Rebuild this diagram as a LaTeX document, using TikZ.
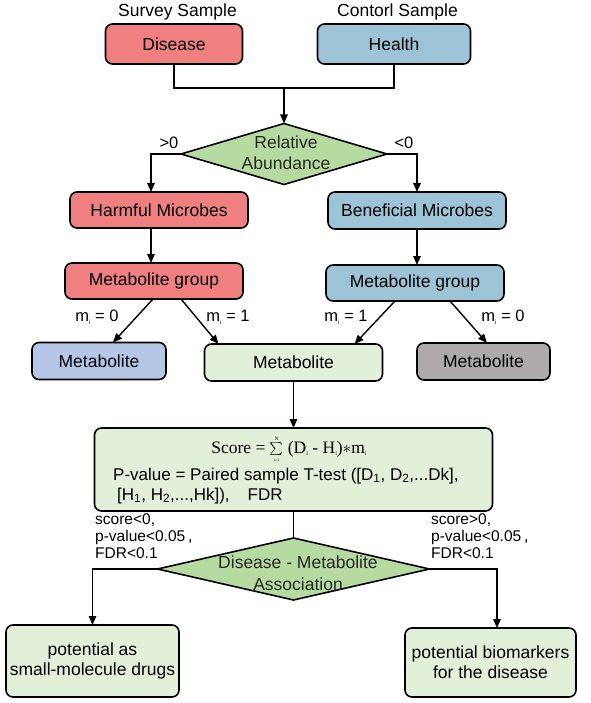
\documentclass[tikz,border=0pt]{standalone}
\usepackage{fontspec}
\setmainfont{Liberation Sans}
\newfontfamily\serifTNR{Liberation Serif}
\usetikzlibrary{shapes.geometric,arrows.meta,calc}
\definecolor{cred}{HTML}{F08080}
\definecolor{cblue}{HTML}{9DC3D6}
\definecolor{cdgreen}{HTML}{B5DBA1}
\definecolor{clgreen}{HTML}{E2EFD9}
\definecolor{cmblue}{HTML}{B4C7E7}
\definecolor{cgray}{HTML}{AEAAAA}
\newcommand{\tinysub}[1]{\raisebox{-0.35ex}{\fontsize{6}{7}\selectfont #1}}
\tikzset{
  box/.style={draw, line width=1.6pt, rounded corners=7pt, inner sep=0pt, outer sep=0pt, align=center, font=\fontsize{17.5}{20}\selectfont},
  dia/.style={diamond, draw, line width=1.6pt, fill=cdgreen, inner sep=0pt, outer sep=0pt},
  ln/.style={line width=1.4pt},
  arr/.style={line width=1.4pt, -{Triangle[length=9pt,width=7.5pt]}},
  txt/.style={inner sep=0pt, align=center, font=\fontsize{17.5}{20}\selectfont},
  lbl/.style={inner sep=0pt, font=\fontsize{16.5}{18}\selectfont},
  cond/.style={inner sep=0pt, align=left, font=\fontsize{15.5}{17}\selectfont}
}
\begin{document}
\begin{tikzpicture}[x=1pt,y=-1pt]
\useasboundingbox (0,0) rectangle (590,703);
% titles
\node[txt] (t1) at (177.5,12) {Survey Sample};
\node[txt] (t2) at (397.5,12) {Contorl Sample};
% top boxes
\node[box, fill=cred, minimum width=137pt, minimum height=40pt] (dis) at (174,44) {Disease};
\node[box, fill=cblue, minimum width=153pt, minimum height=40pt] (hea) at (394,44) {Health};
\coordinate (j) at (284,88);
\draw[ln] (dis.south) |- (j) -| (hea.south);
% diamond 1
\node[dia, minimum width=206pt, minimum height=61pt] (dia1) at (284,154) {};
\node[txt, text=black!85, font=\fontsize{17.5}{21}\selectfont] (dia1t) at (286,153) {Relative\\Abundance};
\draw[arr] (j) -- (dia1.north);
\node[lbl] (gt) at (169,143) {>0};
\node[lbl] (lt) at (404,143) {<0};
% microbes
\node[box, fill=cred, minimum width=178pt, minimum height=36pt] (harm) at (159,210) {Harmful Microbes};
\node[box, fill=cblue, minimum width=178pt, minimum height=37pt] (bene) at (417,210.5) {Beneficial Microbes};
\draw[arr] (dia1.west) -| ([xshift=-8pt]harm.north);
\draw[arr] (dia1.east) -| (bene.north);
% metabolite groups
\node[box, fill=cred, minimum width=178pt, minimum height=36pt] (mgl) at (154,281) {Metabolite group};
\node[box, fill=cblue, minimum width=178pt, minimum height=36pt] (mgr) at (415,283) {Metabolite group};
\draw[arr] ([xshift=-8pt]harm.south) -- ([xshift=-3pt]mgl.north);
\draw[arr] (bene.south) -- ([xshift=2pt]mgr.north);
% metabolites
\node[box, fill=cmblue, minimum width=134pt, minimum height=37pt] (metb) at (99,361) {Metabolite};
\node[box, fill=clgreen, minimum width=178pt, minimum height=37pt] (metg) at (293.5,362.5) {Metabolite};
\node[box, fill=cgray, minimum width=133pt, minimum height=37pt] (metr) at (483.5,361.5) {Metabolite};
\draw[arr] ([xshift=-1pt]mgl.south) -- ([xshift=14pt]metb.north);
\draw[arr] ([xshift=27pt]mgl.south) -- ([xshift=-75pt]metg.north);
\draw[arr] ([xshift=-20pt]mgr.south) -- ([xshift=61pt]metg.north);
\draw[arr] ([xshift=35pt]mgr.south) -- ([xshift=3.5pt]metr.north);
\node[lbl] (m1) at (97,317) {m\tinysub{i} = 0};
\node[lbl] (m2) at (228,317) {m\tinysub{i} = 1};
\node[lbl] (m3) at (346,317) {m\tinysub{i} = 1};
\node[lbl] (m4) at (503,317) {m\tinysub{i} = 0};
% score box
\node[box, fill=clgreen, minimum width=398pt, minimum height=83pt] (score) at (293.5,469.5) {};
\draw[arr] (metg.south) -- (score.north);
\node[inner sep=0pt, font=\fontsize{17.5}{20}\selectfont\serifTNR] (form) at (289,449)
  {Score = $\mathop{\raisebox{-0.15ex}{\scalebox{1.3}{$\sum$}}}\limits_{\raisebox{0pt}{\fontsize{4}{4}\selectfont i=1}}^{\raisebox{0pt}{\fontsize{5}{5}\selectfont N}}$ (D\tinysub{i} - H\tinysub{i})$\ast$m\tinysub{i}};
\node[txt, anchor=west, font=\fontsize{17}{20}\selectfont] (pv) at (113,476) {P-value = Paired sample T-test ([D\textsubscript{1}, D\textsubscript{2},...Dk],};
\node[txt, anchor=west, font=\fontsize{17}{20}\selectfont] (pv2) at (117,496) {[H\textsubscript{1}, H\textsubscript{2},...,Hk]),\hspace{18pt}FDR};
% conditions
\node[cond, anchor=north west] (c1) at (95,513) {score<0,\\p-value<0.05\hspace{3pt},\\FDR<0.1};
\node[cond, anchor=north west] (c2) at (431,513) {score>0,\\p-value<0.05\hspace{3pt},\\FDR<0.1};
% diamond 2
\node[dia, minimum width=272pt, minimum height=62pt] (dia2) at (293.5,569) {};
\node[txt, text=black!85, font=\fontsize{17.5}{22}\selectfont] (dia2t) at (298,573) {Disease - Metabolite\\Association};
\draw[ln] (score.south) -- (dia2.north);
% bottom boxes
\node[box, fill=clgreen, minimum width=173pt, minimum height=72pt] (potl) at (92.5,661) {potential as\\small-molecule drugs};
\node[box, fill=clgreen, minimum width=171pt, minimum height=69pt] (potr) at (490.5,662.5) {potential biomarkers\\for the disease};
\draw[arr] (dia2.west) -| (potl.north);
\draw[arr] (dia2.east) -| ([xshift=6.5pt]potr.north);
\end{tikzpicture}
\end{document}
